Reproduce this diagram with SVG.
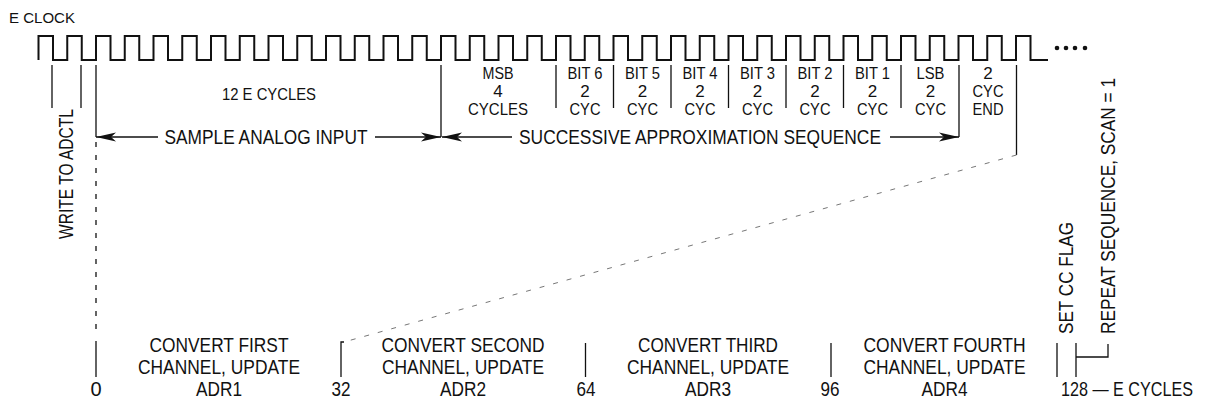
<svg xmlns="http://www.w3.org/2000/svg" width="1208" height="403" viewBox="0 0 1208 403">
<style>
text{font-family:"Liberation Sans",Arial,sans-serif;fill:#111}
.s{font-size:17px}
.b{font-size:20px}
.m{text-anchor:middle}
.ln{stroke:#111;stroke-width:1.3;fill:none}
.clk{stroke:#111;stroke-width:2;fill:none}
.dash{stroke:#111;stroke-width:1.3;stroke-dasharray:5 8;fill:none}
.diag{stroke:#777;stroke-width:1;stroke-dasharray:5 9;fill:none}
</style>
<defs>
<marker id="ah" viewBox="0 0 20 10" refX="20" refY="5" markerWidth="20" markerHeight="10" markerUnits="userSpaceOnUse" orient="auto-start-reverse">
<path d="M0,0.5 L20,5 L0,9.5 L5,5 Z" fill="#111"/>
</marker>
</defs>
<rect width="1208" height="403" fill="#fff"/>
<g id="clock">
<text x="9" y="23" style="font-size:15.5px" textLength="66" lengthAdjust="spacingAndGlyphs">E CLOCK</text>
<path class="clk" d="M38.5,60
v-24 h14.5 v24 h14.25 v-24 h14.5 v24 h14.25 v-24 h14.5 v24 h14.25 v-24 h14.5 v24 h14.25 v-24 h14.5 v24 h14.25
v-24 h14.5 v24 h14.25 v-24 h14.5 v24 h14.25 v-24 h14.5 v24 h14.25 v-24 h14.5 v24 h14.25 v-24 h14.5 v24 h14.25
v-24 h14.5 v24 h14.25 v-24 h14.5 v24 h14.25 v-24 h14.5 v24 h14.25 v-24 h14.5 v24 h14.25 v-24 h14.5 v24 h14.25
v-24 h14.5 v24 h14.25 v-24 h14.5 v24 h14.25 v-24 h14.5 v24 h14.25 v-24 h14.5 v24 h14.25 v-24 h14.5 v24 h14.25
v-24 h14.5 v24 h14.25 v-24 h14.5 v24 h14.25 v-24 h14.5 v24 h14.25 v-24 h14.5 v24 h14.25 v-24 h14.5 v24 h14.25
v-24 h14.5 v24 h14.25 v-24 h14.5 v24 h14.25 v-24 h14.5 v24 h14.25 v-24 h14.5 v24 h14.25 v-24 h14.5 v24 h14.25
v-24 h14.5 v24 h14.25 v-24 h14.5 v24 h14.25 v-24 h14.5 v24 h14.25 v-24 h14.5 v24 h14.25
v-24 h14.5 v24 h17.5"/>
<circle cx="1057" cy="48" r="2.3" fill="#111"/>
<circle cx="1066" cy="48" r="2.3" fill="#111"/>
<circle cx="1075" cy="48" r="2.3" fill="#111"/>
<circle cx="1085" cy="48" r="2.3" fill="#111"/>
</g>
<g id="write-adctl">
<text class="m" style="font-size:19.5px" transform="translate(73,174) rotate(-90)" textLength="130" lengthAdjust="spacingAndGlyphs">WRITE TO ADCTL</text>
</g>
<g id="sample">
<text class="s m" x="269" y="100" textLength="94" lengthAdjust="spacingAndGlyphs">12 E CYCLES</text>
<text class="b m" x="266" y="144" textLength="203" lengthAdjust="spacingAndGlyphs">SAMPLE ANALOG INPUT</text>
</g>
<g id="sar">
<text class="s m" x="498" y="79" textLength="31" lengthAdjust="spacingAndGlyphs">MSB</text>
<text class="s m" x="498" y="97">4</text>
<text class="s m" x="498" y="115" textLength="60" lengthAdjust="spacingAndGlyphs">CYCLES</text>
<text class="s m" x="585" y="79" textLength="35" lengthAdjust="spacingAndGlyphs">BIT 6</text>
<text class="s m" x="585" y="97">2</text>
<text class="s m" x="585" y="115" textLength="31" lengthAdjust="spacingAndGlyphs">CYC</text>
<text class="s m" x="642.5" y="79" textLength="35" lengthAdjust="spacingAndGlyphs">BIT 5</text>
<text class="s m" x="642.5" y="97">2</text>
<text class="s m" x="642.5" y="115" textLength="31" lengthAdjust="spacingAndGlyphs">CYC</text>
<text class="s m" x="700" y="79" textLength="35" lengthAdjust="spacingAndGlyphs">BIT 4</text>
<text class="s m" x="700" y="97">2</text>
<text class="s m" x="700" y="115" textLength="31" lengthAdjust="spacingAndGlyphs">CYC</text>
<text class="s m" x="757.5" y="79" textLength="35" lengthAdjust="spacingAndGlyphs">BIT 3</text>
<text class="s m" x="757.5" y="97">2</text>
<text class="s m" x="757.5" y="115" textLength="31" lengthAdjust="spacingAndGlyphs">CYC</text>
<text class="s m" x="815" y="79" textLength="35" lengthAdjust="spacingAndGlyphs">BIT 2</text>
<text class="s m" x="815" y="97">2</text>
<text class="s m" x="815" y="115" textLength="31" lengthAdjust="spacingAndGlyphs">CYC</text>
<text class="s m" x="872.5" y="79" textLength="35" lengthAdjust="spacingAndGlyphs">BIT 1</text>
<text class="s m" x="872.5" y="97">2</text>
<text class="s m" x="872.5" y="115" textLength="31" lengthAdjust="spacingAndGlyphs">CYC</text>
<text class="s m" x="930.5" y="79" textLength="28" lengthAdjust="spacingAndGlyphs">LSB</text>
<text class="s m" x="930.5" y="97">2</text>
<text class="s m" x="930.5" y="115" textLength="31" lengthAdjust="spacingAndGlyphs">CYC</text>
<text class="s m" x="988" y="79">2</text>
<text class="s m" x="988" y="97" textLength="31" lengthAdjust="spacingAndGlyphs">CYC</text>
<text class="s m" x="988" y="115" textLength="31" lengthAdjust="spacingAndGlyphs">END</text>
<text class="b m" x="700" y="144" textLength="362" lengthAdjust="spacingAndGlyphs">SUCCESSIVE APPROXIMATION SEQUENCE</text>
</g>
<g id="conversions">
<text class="b m" x="219" y="352" textLength="139" lengthAdjust="spacingAndGlyphs">CONVERT FIRST</text>
<text class="b m" x="219" y="374" textLength="162" lengthAdjust="spacingAndGlyphs">CHANNEL, UPDATE</text>
<text class="b m" x="219" y="396" textLength="46" lengthAdjust="spacingAndGlyphs">ADR1</text>
<text class="b m" x="463" y="352" textLength="163" lengthAdjust="spacingAndGlyphs">CONVERT SECOND</text>
<text class="b m" x="463" y="374" textLength="162" lengthAdjust="spacingAndGlyphs">CHANNEL, UPDATE</text>
<text class="b m" x="463" y="396" textLength="46" lengthAdjust="spacingAndGlyphs">ADR2</text>
<text class="b m" x="708" y="352" textLength="140" lengthAdjust="spacingAndGlyphs">CONVERT THIRD</text>
<text class="b m" x="708" y="374" textLength="162" lengthAdjust="spacingAndGlyphs">CHANNEL, UPDATE</text>
<text class="b m" x="708" y="396" textLength="46" lengthAdjust="spacingAndGlyphs">ADR3</text>
<text class="b m" x="944.5" y="352" textLength="162" lengthAdjust="spacingAndGlyphs">CONVERT FOURTH</text>
<text class="b m" x="944.5" y="374" textLength="162" lengthAdjust="spacingAndGlyphs">CHANNEL, UPDATE</text>
<text class="b m" x="944.5" y="396" textLength="46" lengthAdjust="spacingAndGlyphs">ADR4</text>
</g>
<g id="axis">
<text class="b m" x="96" y="396">0</text>
<text class="b m" x="341" y="396" textLength="19" lengthAdjust="spacingAndGlyphs">32</text>
<text class="b m" x="586" y="396" textLength="19" lengthAdjust="spacingAndGlyphs">64</text>
<text class="b m" x="830" y="396" textLength="19" lengthAdjust="spacingAndGlyphs">96</text>
<text class="b" transform="translate(1061,396) scale(0.808,1)">128 — E CYCLES</text>
</g>
<g id="flags">
<text class="b m" transform="translate(1073,278) rotate(-90)" textLength="112" lengthAdjust="spacingAndGlyphs">SET CC FLAG</text>
<text class="b m" transform="translate(1115,206) rotate(-90)" textLength="256" lengthAdjust="spacingAndGlyphs">REPEAT SEQUENCE, SCAN = 1</text>
</g>
<g id="connectors">
<path class="ln" d="M52,65 V108 M81,65 V108 M96,65 V137"/>
<path class="dash" d="M96,142 V334"/>
<path class="ln" d="M441,65 V137 M959,65 V137 M1016.5,65 V155"/>
<path class="ln" d="M556,65 V108 M613.5,65 V108 M671,65 V108 M728.5,65 V108 M786,65 V108 M843.5,65 V108 M901,65 V108"/>
<path class="ln" d="M96,137 H158" marker-start="url(#ah)"/>
<path class="ln" d="M375,137 H441" marker-end="url(#ah)"/>
<path class="ln" d="M442,137 H512" marker-start="url(#ah)"/>
<path class="ln" d="M890,137 H959" marker-end="url(#ah)"/>
<path class="diag" d="M1016.5,155 L344,342"/>
<path class="ln" d="M344,342 H341 V377"/>
<path class="ln" d="M96,341 V377 M585.5,343 V377 M831,343 V377 M1057,343 V377 M1076,343 V377"/>
<path class="ln" d="M1076,357 H1108 V344"/>
</g>
</svg>
